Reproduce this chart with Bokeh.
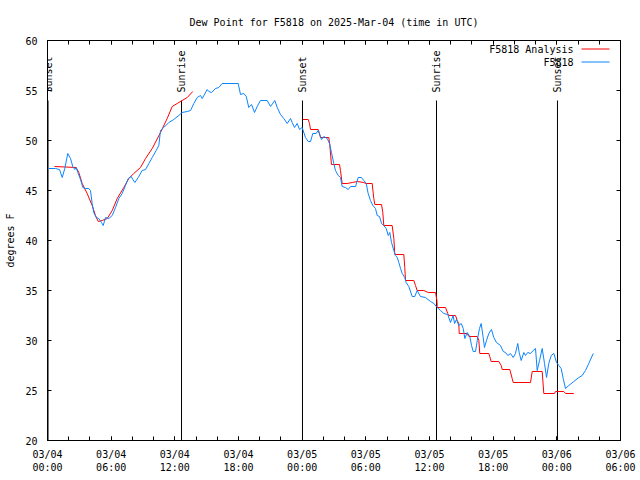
import math
from bokeh.plotting import figure
from bokeh.models import (Range1d, FixedTicker, LinearAxis, Label, BoxAnnotation,
                          ColumnDataSource, LabelSet)
from bokeh.core.properties import value
from bokeh.embed import file_html
from bokeh.resources import INLINE

FONT = "DejaVu Sans Mono"

title_text = "Dew Point for F5818 on 2025-Mar-04 (time in UTC)"
y_label = "degrees F"
series_names = ["F5818 Analysis", "F5818"]

# hours since 2025-03-04 00:00 UTC
x_tick_hours = [0, 6, 12, 18, 24, 30, 36, 42, 48, 54]
x_tick_labels = ["03/04\n00:00", "03/04\n06:00", "03/04\n12:00", "03/04\n18:00",
                 "03/05\n00:00", "03/05\n06:00", "03/05\n12:00", "03/05\n18:00",
                 "03/06\n00:00", "03/06\n06:00"]
y_ticks = [20, 25, 30, 35, 40, 45, 50, 55, 60]

sun_hours = [0.05, 12.63, 24.03, 36.66, 48.06]
sun_labels = ["Sunset", "Sunrise", "Sunset", "Sunrise", "Sunset"]

# observations (F5818)
obs_hours = [0.12, 0.75, 1.13, 1.39, 1.63, 1.91, 2.17, 2.38, 2.57, 2.70, 2.86, 3.11, 3.33, 3.58,
             3.89, 4.05, 4.21, 4.36, 4.59, 4.83, 5.09, 5.25, 5.47, 5.78, 6.10, 6.41, 6.72, 7.04,
             7.35, 7.61, 7.89, 8.04, 8.23, 8.55, 8.92, 9.24, 9.55, 9.87, 10.24, 10.49, 10.65,
             10.96, 11.43, 11.90, 12.37, 12.69, 13.17, 13.48, 13.79, 14.11, 14.42, 14.58, 15.05,
             15.20, 15.46, 15.83, 16.14, 16.46, 17.97, 18.19, 18.50, 18.73, 18.97, 19.23, 19.51,
             19.76, 20.07, 20.70, 21.02, 21.42, 21.65, 21.96, 22.27, 22.59, 22.90, 23.06, 23.28,
             23.53, 23.75, 24.00, 24.31, 24.57, 24.79, 25.00, 25.32, 25.51, 25.82, 26.04, 26.36,
             26.58, 26.76, 26.98, 27.14, 27.40, 27.61, 27.77, 28.08, 28.34, 28.56, 29.03, 29.28,
             29.59, 29.81, 30.04, 30.22, 30.44, 30.66, 30.91, 31.07, 31.29, 31.48, 31.69, 31.92,
             32.11, 32.26, 32.42, 32.64, 32.80, 32.96, 33.11, 33.27, 33.43, 33.67, 33.80, 34.05,
             34.37, 34.61, 34.84, 35.15, 35.62, 36.10, 36.41, 36.73, 37.04, 37.35, 37.72, 37.98,
             38.23, 38.36, 38.54, 38.76, 38.99, 39.18, 39.33, 39.55, 39.80, 39.96, 40.12, 40.34,
             40.50, 40.71, 40.87, 41.06, 41.18, 41.37, 41.59, 41.84, 42.06, 42.31, 42.69, 42.95,
             43.16, 43.38, 43.63, 43.89, 44.10, 44.32, 44.45, 44.64, 44.89, 45.05, 45.26, 45.52,
             45.77, 45.99, 46.15, 46.37, 46.62, 46.84, 47.03, 47.24, 47.47, 47.72, 47.97, 48.19,
             48.41, 48.60, 48.82, 49.13, 49.60, 50.07, 50.39, 50.70, 51.01, 51.43]
obs_dewpt = [47.2, 47.2, 47.1, 46.3, 47.2, 48.7, 48.2, 47.4, 47.1, 47.3, 46.8, 46.1, 45.3, 45.2,
             45.2, 45.0, 43.7, 42.8, 42.3, 42.2, 41.8, 41.5, 42.3, 42.2, 42.5, 43.3, 44.2, 44.7,
             45.5, 46.2, 46.4, 46.1, 45.8, 46.3, 47.0, 47.1, 47.7, 48.3, 49.0, 49.5, 51.0,
             51.3, 51.8, 52.1, 52.5, 52.8, 52.9, 53.0, 53.7, 54.3, 54.5, 54.2, 55.1,
             54.9, 54.8, 55.2, 55.3, 55.7, 55.7, 54.6, 54.7, 54.4, 53.3, 53.6, 52.8,
             53.4, 54.0, 54.0, 53.4, 54.0, 53.3, 52.6, 52.2, 51.7, 52.2, 51.8, 51.3,
             51.7, 51.1, 51.3, 50.3, 49.9, 49.9, 50.7, 50.7, 51.0, 50.1, 50.4, 50.2,
             49.7, 48.8, 47.7, 47.0, 46.5, 46.3, 45.4, 45.3, 45.1, 45.4, 45.4, 46.3,
             46.3, 46.0, 45.7, 44.7, 44.0, 43.5, 43.2, 42.5, 42.4, 41.7, 41.5, 41.2,
             40.5, 40.8, 39.8, 39.0, 38.5, 38.3, 37.8, 37.2, 36.7, 36.3, 35.8, 35.4,
             34.4, 34.4, 35.0, 34.4, 34.3, 33.9, 33.7, 33.3, 33.0, 32.7, 32.6, 31.8,
             32.5, 31.7, 32.1, 31.5, 31.7, 31.2, 30.2, 30.8, 30.4, 29.5, 28.9, 28.9,
             30.0, 31.2, 31.7, 30.3, 29.3, 30.0, 30.7, 31.1, 30.3, 29.8, 29.5, 28.9,
             28.8, 28.5, 28.7, 28.3, 28.7, 29.7, 28.8, 28.0, 28.8, 28.5, 28.8, 28.7,
             29.0, 29.2, 27.0, 28.0, 29.2, 27.7, 26.3, 27.7, 28.5, 28.7, 27.8, 27.5,
             27.2, 26.2, 25.2, 25.5, 25.9, 26.3, 26.5, 27.0, 27.7, 28.7]

# analysis (F5818 Analysis); NaN marks the gap in the analysis
ana_hours = [0.66, 2.70, 2.95, 3.27, 3.74, 4.21, 4.52, 4.78, 5.15, 5.63, 6.10, 6.57, 7.19, 7.66,
             8.13, 8.76, 9.24, 9.87, 10.65, 11.28, 11.75, 12.22, 12.69, 13.17, 13.69, 18.0,
             24.06, 24.57, 24.69, 24.79, 25.51, 25.63, 25.73, 26.51, 26.60, 26.76, 27.52, 27.61,
             27.77, 28.24, 28.72, 29.19, 29.81, 29.97, 30.60, 30.75, 30.85, 31.48, 31.60, 31.69,
             32.48, 32.64, 32.73, 33.58, 33.67, 33.74, 34.52, 34.68, 34.84, 35.46, 35.88, 36.57,
             36.70, 36.73, 37.51, 37.72, 37.81, 38.45, 38.61, 38.76, 38.80, 39.55, 39.71, 40.50,
             40.65, 40.74, 41.59, 41.68, 41.81, 42.53, 42.76, 42.85, 43.57, 43.79, 43.89, 45.52,
             45.68, 46.62, 46.77, 47.78, 47.87, 48.66, 48.82, 49.60]
ana_dewpt = [47.4, 47.3, 46.8, 45.7, 44.7, 43.5, 42.5, 41.9, 42.0, 42.2, 43.0, 44.2, 45.3, 46.2,
             46.7, 47.3, 48.2, 49.2, 50.8, 52.2, 53.4, 53.7, 54.0, 54.3, 54.9, float("nan"),
             52.1, 52.1, 51.7, 51.1, 51.1, 50.7, 50.3, 50.3, 49.6, 47.6, 47.6, 47.0,
             45.7, 45.7, 45.8, 45.9, 45.8, 45.7, 45.7, 44.2, 43.6, 43.6, 42.8, 41.5,
             41.5, 40.2, 38.6, 38.6, 37.3, 36.0, 36.0, 35.5, 35.0, 35.0, 34.8, 34.8,
             34.0, 33.3, 33.3, 32.7, 32.5, 32.5, 32.0, 31.7, 30.7, 30.7, 30.4, 30.4,
             30.0, 28.7, 28.7, 28.4, 27.9, 27.9, 27.5, 27.1, 27.1, 26.2, 25.8, 25.8,
             26.9, 26.9, 24.7, 24.7, 24.9, 24.9, 24.7, 24.7]

RED = "#ff0000"
BLUE = "#0a84ff"

p = figure(width=640, height=480, x_range=Range1d(0, 54), y_range=Range1d(20, 60),
           output_backend="svg", toolbar_location=None, title=title_text,
           min_border_left=47, min_border_right=20, min_border_top=40, min_border_bottom=40)

p.background_fill_color = "white"
p.border_fill_color = "white"
p.outline_line_color = "black"
p.outline_line_width = 1
p.grid.visible = False

p.title.text_font = FONT
p.title.text_font_size = "10px"
p.title.text_font_style = "normal"
p.title.align = "center"
p.title.text_color = "black"
p.title.standoff = 25

x_ticker = FixedTicker(ticks=x_tick_hours, minor_ticks=list(range(0, 55, 2)))
y_ticker = FixedTicker(ticks=y_ticks, minor_ticks=[])

xa = p.xaxis[0]
xa.ticker = x_ticker
xa.major_label_overrides = dict(zip(x_tick_hours, x_tick_labels))
ya = p.yaxis[0]
ya.ticker = y_ticker
ya.axis_label = y_label
ya.axis_label_standoff = 6
ya.axis_label_text_font_style = "normal"
ya.axis_label_text_font = FONT
ya.axis_label_text_font_size = "10px"
ya.axis_label_text_color = "black"

for ax in (xa, ya):
    ax.major_tick_in = 4
    ax.major_tick_out = 0
    ax.minor_tick_in = 4
    ax.minor_tick_out = 0
    ax.axis_line_color = "black"
    ax.major_tick_line_color = "black"
    ax.minor_tick_line_color = "black"
    ax.major_label_text_font = FONT
    ax.major_label_text_font_size = "10px"
    ax.major_label_text_color = "black"
xa.major_label_standoff = 8
ya.major_label_standoff = 10

top_axis = LinearAxis(ticker=x_ticker)
right_axis = LinearAxis(ticker=y_ticker)
for ax, ticks in ((top_axis, list(range(0, 55, 2))), (right_axis, y_ticks)):
    ax.major_tick_in = 4
    ax.major_tick_out = 0
    ax.minor_tick_in = 4
    ax.minor_tick_out = 0
    ax.major_label_standoff = 0
    ax.major_label_text_font_size = "0px"
    ax.major_label_overrides = {t: "" for t in ticks}
    ax.axis_line_color = "black"
p.add_layout(top_axis, "above")
p.add_layout(right_axis, "right")

# sunrise / sunset markers
p.segment(x0=sun_hours, y0=20, x1=sun_hours, y1=54, line_color="black", line_width=1)
sun_src = ColumnDataSource(dict(x=sun_hours, text=sun_labels))
p.add_layout(LabelSet(x="x", y=54.8, text="text", source=sun_src, angle=math.pi / 2,
                      text_align="left", text_baseline="middle", text_font=value(FONT),
                      text_font_size="10px", text_color="black"))

p.line(ana_hours, ana_dewpt, line_color=RED, line_width=1)
p.line(obs_hours, obs_dewpt, line_color=BLUE, line_width=1)

# legend (text to the left of the line sample)
for name, color, sy in ((series_names[0], RED, 391), (series_names[1], BLUE, 378)):
    p.add_layout(Label(x=526, y=sy, x_units="screen", y_units="screen", text=name,
                       text_align="right", text_baseline="middle", text_font=FONT,
                       text_font_size="10px", text_color="black"))
    p.add_layout(BoxAnnotation(left=534, right=562, bottom=sy, top=sy + 1,
                               left_units="screen", right_units="screen",
                               bottom_units="screen", top_units="screen",
                               fill_color=color, fill_alpha=1.0, line_color=None))

open("out.html", "w").write(file_html(p, INLINE))
